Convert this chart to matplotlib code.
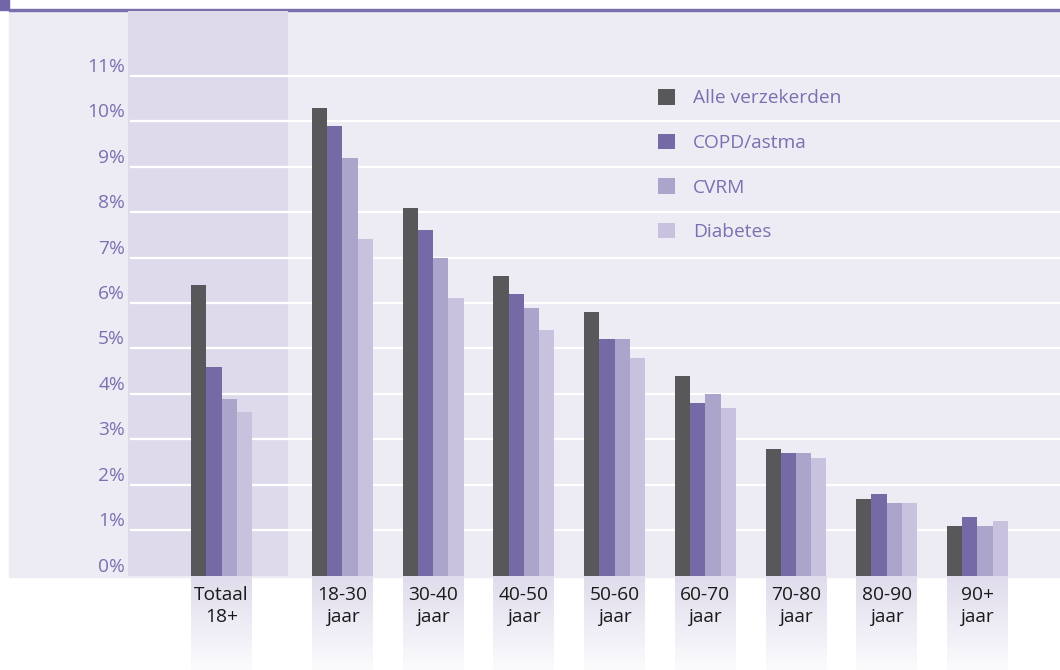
import numpy as np
import matplotlib
matplotlib.use("Agg")
import matplotlib.pyplot as plt
from matplotlib.patches import Rectangle
from matplotlib.colors import LinearSegmentedColormap

plt.rcParams['font.family'] = ['Open Sans', 'DejaVu Sans']

groups = ["Totaal\n18+", "18-30\njaar", "30-40\njaar", "40-50\njaar", "50-60\njaar",
          "60-70\njaar", "70-80\njaar", "80-90\njaar", "90+\njaar"]
series = ["Alle verzekerden", "COPD/astma", "CVRM", "Diabetes"]
alle = [6.4, 10.3, 8.1, 6.6, 5.8, 4.4, 2.8, 1.7, 1.1]
copd = [4.6, 9.9, 7.6, 6.2, 5.2, 3.8, 2.7, 1.8, 1.3]
cvrm = [3.9, 9.2, 7.0, 5.9, 5.2, 4.0, 2.7, 1.6, 1.1]
diabetes = [3.6, 7.4, 6.1, 5.4, 4.8, 3.7, 2.6, 1.6, 1.2]
yticks = list(range(0, 12))
ytick_labels = [f"{v}%" for v in yticks]

colors = ["#58585a", "#7569a6", "#aba5cc", "#c8c2df"]
label_purple = "#7b70b0"
panel_bg = "#edebf4"
column_bg = "#dedaeb"
fs = 13.8

W, H = 1060, 670
fig = plt.figure(figsize=(W / 100, H / 100), dpi=100)
fig.patch.set_facecolor("white")

# light panel behind the plot, purple rule on top
fig.patches.append(Rectangle((9 / W, 1 - 577 / H), 1051 / W, 566 / H,
                             transform=fig.transFigure, color=panel_bg, zorder=-10))
fig.patches.append(Rectangle((9 / W, 1 - 11 / H), 1051 / W, 2 / H,
                             transform=fig.transFigure, color="#7b70ae", zorder=-9))
fig.patches.append(Rectangle((0, 1 - 10 / H), 9 / W, 10 / H,
                             transform=fig.transFigure, color="#7366a8", zorder=-9))

px_x = 90.7    # pixels per group step
px_y = 45.46   # pixels per percent
ax_left, ax_bottom_px, ax_top_px = 130, 575.8, 11
ax = fig.add_axes([ax_left / W, 1 - ax_bottom_px / H, (W - ax_left) / W,
                   (ax_bottom_px - ax_top_px) / H])
ax.set_facecolor("none")

x = np.array([0.0] + [1.334 + i for i in range(len(groups) - 1)])
width = 0.168
xmin = -(221.5 - ax_left) / px_x
xmax = xmin + (W - ax_left) / px_x
ymax = (ax_bottom_px - ax_top_px) / px_y

# shaded column behind the total group
ax.axvspan(-1.031, 0.733, color=column_bg, zorder=0, lw=0, clip_on=False)

# white gridlines
ax.hlines(yticks[1:], xmin, xmax, colors="white", lw=1.6, zorder=1)

# fading strips under each group label
fade = LinearSegmentedColormap.from_list("fade", ["#e0dcec", "#fbfbfd"])
grad = np.linspace(0, 1, 100).reshape(-1, 1)
ybot = -(H - ax_bottom_px) / px_y
for xc in x:
    ax.imshow(grad, cmap=fade, aspect="auto", zorder=0, clip_on=False,
              extent=[xc - 2 * width, xc + 2 * width, ybot, 0], origin="upper")

bars = []
for j, (name, vals) in enumerate(zip(series, [alle, copd, cvrm, diabetes])):
    b = ax.bar(x + (j - 1.5) * width, vals, width, color=colors[j], label=name,
               zorder=3, lw=0)
    bars.append(b)

ax.set_xlim(xmin, xmax)
ax.set_ylim(0, ymax)
for s in ax.spines.values():
    s.set_visible(False)

ax.set_yticks(yticks)
ax.set_yticklabels(ytick_labels, color=label_purple, fontsize=fs, va="bottom")
ax.set_xticks(x)
ax.set_xticklabels(groups, color="#1a1a1a", fontsize=fs, linespacing=1.31)
ax.tick_params(axis="both", length=0)
ax.tick_params(axis="y", pad=3.6)
ax.tick_params(axis="x", pad=7.2)

ax.legend(handles=bars, loc="upper left", bbox_to_anchor=(658 / W, 1 - 89 / H),
          bbox_transform=fig.transFigure, frameon=False, fontsize=fs,
          labelcolor=label_purple, handlelength=0.885, handleheight=0.885,
          handletextpad=0.94, labelspacing=1.36, borderpad=0, borderaxespad=0)

fig.savefig("out.png", dpi=100, facecolor="white")
